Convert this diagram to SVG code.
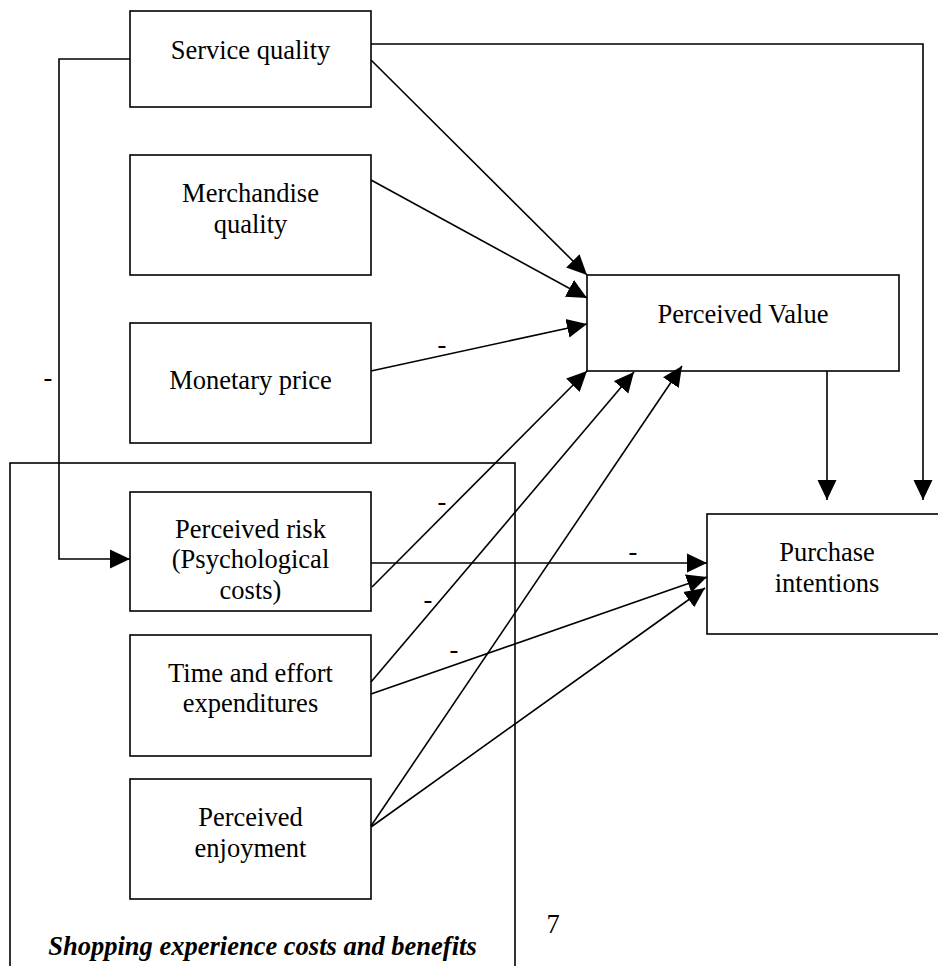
<svg xmlns="http://www.w3.org/2000/svg" width="938" height="966" viewBox="0 0 938 966">
<style>
.box{fill:none;stroke:#000;stroke-width:1.6}
.t{font-family:"Liberation Serif","Times New Roman",serif;font-size:26.5px;fill:#000;text-anchor:middle}
.lbl{font-family:"Liberation Serif","Times New Roman",serif;font-size:26.5px;fill:#000;text-anchor:middle}
.bi{font-weight:bold;font-style:italic}
.c{fill:none;stroke:#000;stroke-width:1.6}
.a{marker-end:url(#arr)}
</style>
<defs>
<marker id="arr" markerUnits="userSpaceOnUse" markerWidth="20" markerHeight="20" refX="20" refY="9.5" orient="auto" viewBox="0 0 20 19">
<path d="M0,0 L20,9.5 L0,19 z" fill="#000"/>
</marker>
</defs>
<rect width="938" height="966" fill="#fff"/>
<g id="group-shopping">
<rect class="box" x="10" y="463" width="505" height="520"/>
<text class="t bi" x="262.5" y="955">Shopping experience costs and benefits</text>
</g>
<g id="node-service">
<rect class="box" x="130" y="11" width="241" height="96"/>
<text class="t" x="250.5" y="59">Service quality</text>
</g>
<g id="node-merch">
<rect class="box" x="130" y="155" width="241" height="120"/>
<text class="t" x="250.5" y="202">Merchandise</text>
<text class="t" x="250.5" y="233">quality</text>
</g>
<g id="node-price">
<rect class="box" x="130" y="323" width="241" height="120"/>
<text class="t" x="250.5" y="389">Monetary price</text>
</g>
<g id="node-risk">
<rect class="box" x="130" y="492" width="241" height="119"/>
<text class="t" x="250.5" y="538">Perceived risk</text>
<text class="t" x="250.5" y="568">(Psychological</text>
<text class="t" x="250.5" y="599">costs)</text>
</g>
<g id="node-time">
<rect class="box" x="130" y="635" width="241" height="121"/>
<text class="t" x="250.5" y="682">Time and effort</text>
<text class="t" x="250.5" y="712">expenditures</text>
</g>
<g id="node-enjoy">
<rect class="box" x="130" y="779" width="241" height="120"/>
<text class="t" x="250.5" y="826">Perceived</text>
<text class="t" x="250.5" y="857">enjoyment</text>
</g>
<g id="node-value">
<rect class="box" x="587" y="275" width="312" height="96"/>
<text class="t" x="743" y="323">Perceived Value</text>
</g>
<g id="node-intent">
<rect class="box" x="707" y="514" width="250" height="120"/>
<text class="t" x="827" y="561">Purchase</text>
<text class="t" x="827" y="592">intentions</text>
</g>
<g id="connectors">
<polyline class="c a" points="130,59 59,59 59,559 130,559"/>
<polyline class="c a" points="371,44 923,44 923,500"/>
<line class="c a" x1="827" y1="371" x2="827" y2="500"/>
<line class="c a" x1="371" y1="60" x2="587" y2="275"/>
<line class="c a" x1="371" y1="180" x2="587" y2="298"/>
<line class="c a" x1="371" y1="371" x2="587" y2="324"/>
<line class="c a" x1="372" y1="587" x2="587" y2="371"/>
<line class="c a" x1="371" y1="682" x2="634" y2="372"/>
<line class="c a" x1="371" y1="826" x2="682" y2="366"/>
<line class="c a" x1="371" y1="563" x2="707" y2="563"/>
<line class="c a" x1="371" y1="694" x2="707" y2="577"/>
<line class="c a" x1="371" y1="827" x2="705" y2="588"/>
<text class="lbl" x="48" y="386">-</text>
<text class="lbl" x="442" y="353">-</text>
<text class="lbl" x="442" y="510">-</text>
<text class="lbl" x="428" y="608">-</text>
<text class="lbl" x="454" y="658">-</text>
<text class="lbl" x="633" y="560">-</text>
</g>
<text class="t" x="553" y="933">7</text>
</svg>
